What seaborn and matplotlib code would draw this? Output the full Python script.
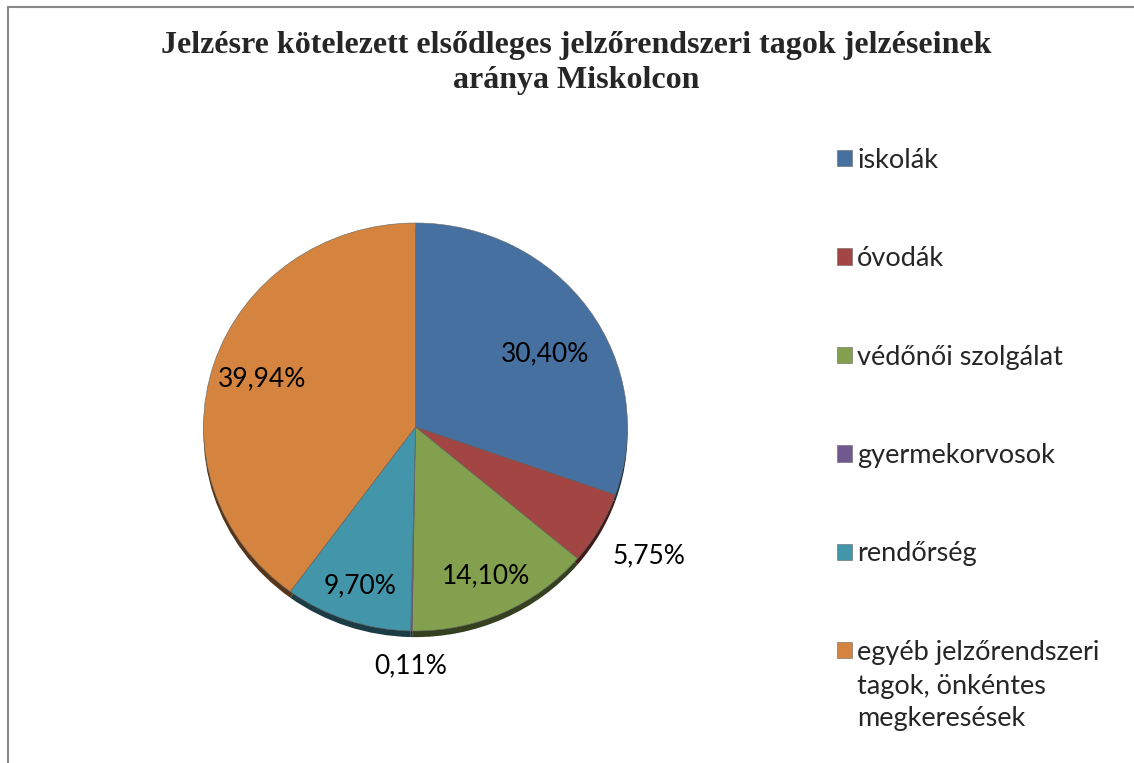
import seaborn as sns
import matplotlib.pyplot as plt
from matplotlib.lines import Line2D
import numpy as np

# chart data
categories = [
    "iskolák",
    "óvodák",
    "védőnői szolgálat",
    "gyermekorvosok",
    "rendőrség",
    "egyéb jelzőrendszeri",
]
last_label_rest = "tagok, önkéntes\nmegkeresések"
shares = [30.40, 5.75, 14.10, 0.11, 9.70, 39.94]
pct_labels = ["30,40%", "5,75%", "14,10%", "0,11%", "9,70%", "39,94%"]
colors = ["#46709F", "#A34543", "#82A04D", "#71588F", "#4395AA", "#D4843F"]
title = "Jelzésre kötelezett elsődleges jelzőrendszeri tagok jelzéseinek\naránya Miskolcon"

# label placement: distance from centre (radii) and angle shift (deg)
label_radius = [0.71, 1.27, 0.80, 1.17, 0.82, 0.76]
label_shift = [-5, 0, 0, 0, 0, 0]


def darker(c, f=0.4):
    r, g, b = sns.color_palette([c])[0]
    return (r * f, g * f, b * f)


def main():
    sns.set_theme(style="white")
    plt.rcParams["font.family"] = ["Lato", "DejaVu Sans"]

    W, H = 1134, 763
    fig = plt.figure(figsize=(W / 100, H / 100), dpi=100)
    fig.patch.set_facecolor("white")

    # pie axes box in pixels (centre x, centre y from top, half sizes)
    cx, cy, rx, ry = 415.5, 427, 212, 204
    ax = fig.add_axes([(cx - rx) / W, (H - cy - ry) / H, 2 * rx / W, 2 * ry / H])
    ax.axis("off")

    # dark rim under the pie for the 3D look
    rim, _ = ax.pie(shares, colors=[darker(c) for c in colors], startangle=90,
                    counterclock=False, radius=1, center=(0, -0.03),
                    wedgeprops=dict(linewidth=0))
    for w in rim:
        w.set_clip_on(False)
        w.set_zorder(1)

    wedges, _ = ax.pie(shares, colors=colors, startangle=90, counterclock=False,
                       radius=1, wedgeprops=dict(linewidth=0.4, edgecolor="#666666"))
    for w in wedges:
        w.set_clip_on(False)
        w.set_zorder(2)
    ax.set_xlim(-1, 1)
    ax.set_ylim(-1, 1)
    ax.set_aspect("auto")

    for w, txt, rr, sh in zip(wedges, pct_labels, label_radius, label_shift):
        ang = np.deg2rad((w.theta1 + w.theta2) / 2 + sh)
        ax.text(rr * np.cos(ang), rr * np.sin(ang), txt, ha="center", va="center",
                fontsize=19, color="black", zorder=5, clip_on=False)

    fig.text(576 / W, 1 - 31 / H, title, ha="center", va="top", fontsize=23,
             fontweight="bold", family="Liberation Serif", linespacing=1.28)

    leg = fig.legend(wedges, categories, loc="upper left",
                     bbox_to_anchor=(826 / W, 1 - 137 / H), frameon=False,
                     fontsize=19.5, handlelength=0.55, handleheight=0.55,
                     handletextpad=0.2, labelspacing=2.71, borderaxespad=0)

    # continuation lines of the last legend label
    fig.canvas.draw()
    bb = leg.get_texts()[-1].get_window_extent(fig.canvas.get_renderer())
    fig.text(bb.x0 / W, (bb.y0 - 9) / H, last_label_rest, ha="left", va="top",
             fontsize=19.5, linespacing=1.35)

    # chart frame (only top and left edges are visible)
    fig.add_artist(Line2D([7.5 / W, 1], [1 - 6.5 / H, 1 - 6.5 / H],
                          transform=fig.transFigure, color="#888888", lw=1.5))
    fig.add_artist(Line2D([7.5 / W, 7.5 / W], [0, 1 - 6.5 / H],
                          transform=fig.transFigure, color="#888888", lw=1.5))

    fig.savefig("out.png", dpi=100, facecolor="white")


if __name__ == "__main__":
    main()
